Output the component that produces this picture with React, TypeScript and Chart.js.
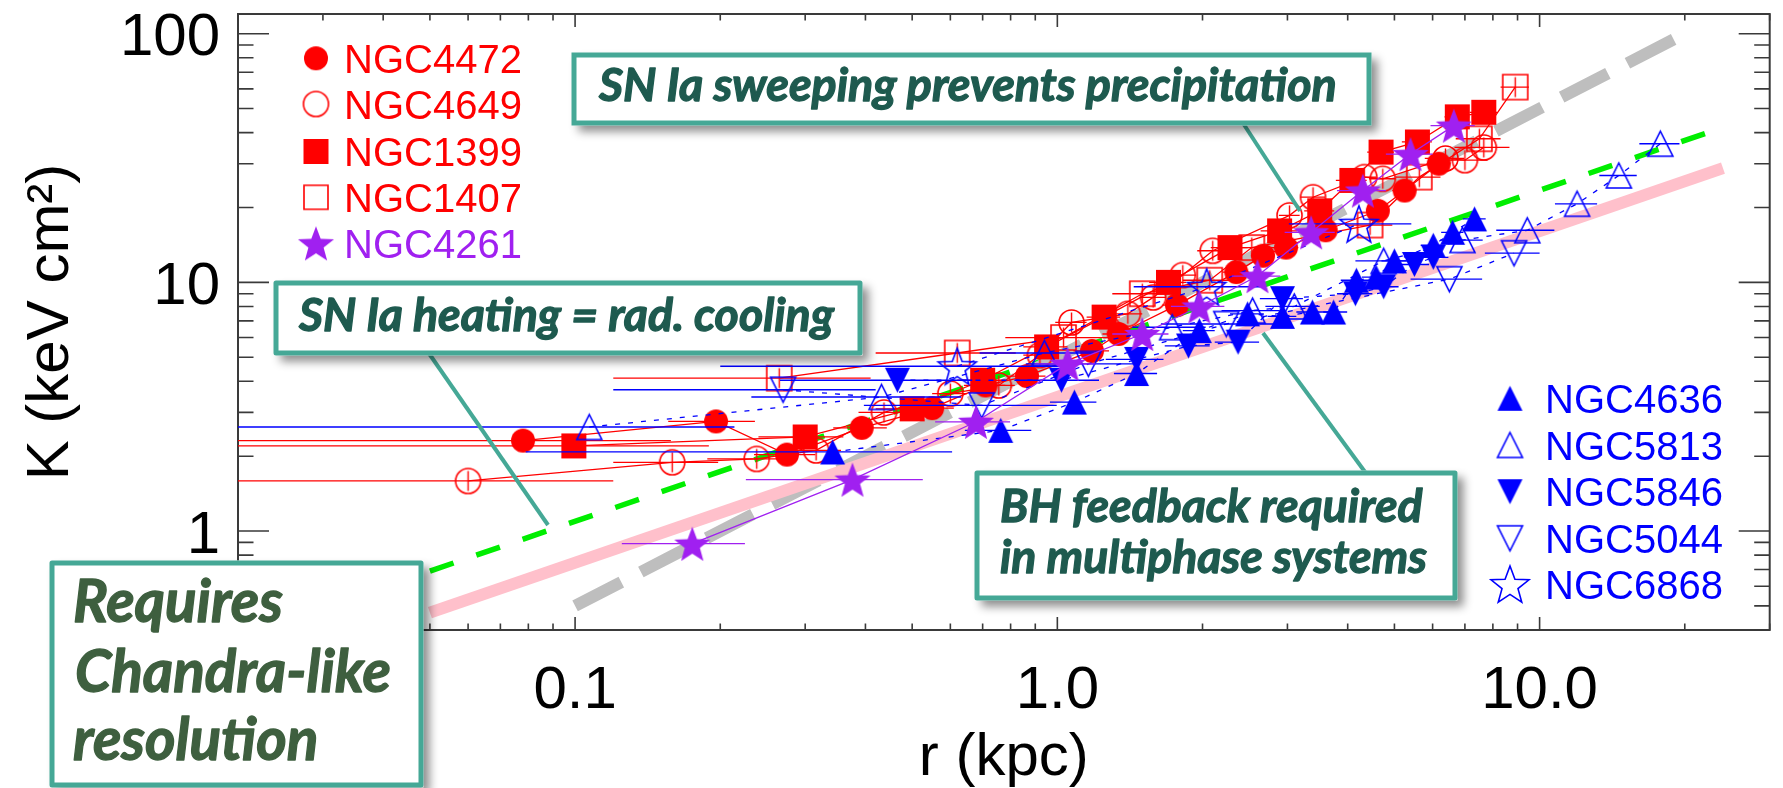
import React, { useEffect, useRef } from 'react';
import { Chart, registerables } from 'chart.js';

Chart.register(...registerables);

// ---------- axes ----------
const xRange = [0.02, 30];
const yRange = [0.4, 120];
const xMajor = [0.1, 1, 10];
const xMajorText = ['0.1', '1.0', '10.0'];
const yMajor = [1, 10, 100];
const yMajorText = ['1', '10', '100'];

// ---------- data (r in kpc, K in keV cm^2, rErr = half width of r bin) ----------
const r4472 = [0.078, 0.196, 0.275, 0.393, 0.55, 0.71, 0.865, 1.18, 1.34, 1.77, 2.35, 2.67, 2.98, 3.6, 4.62, 5.25, 6.18];
const k4472 = [2.31, 2.76, 2.03, 2.6, 3.12, 3.85, 4.2, 5.3, 6.2, 8.1, 11.0, 12.8, 13.8, 16.2, 19.4, 23.4, 30.0];
const e4472 = [0.08, 0.04, 0.04, 0.05, 0.06, 0.07, 0.08, 0.1, 0.1, 0.12, 0.15, 0.15, 0.18, 0.2, 0.25, 0.3, 0.35];

const r4649 = [0.06, 0.159, 0.238, 0.316, 0.437, 0.6, 0.756, 0.92, 1.07, 1.4, 1.58, 1.82, 2.1, 3.03, 3.39, 4.33, 4.73, 6.38, 7.0, 7.66];
const k4649 = [1.59, 1.89, 1.95, 2.11, 3.0, 3.57, 3.85, 5.1, 6.9, 7.47, 8.7, 10.7, 13.4, 18.6, 22.0, 26.5, 26.1, 31.5, 31.0, 34.9];
const e4649 = [0.06, 0.039, 0.05, 0.04, 0.05, 0.05, 0.06, 0.07, 0.08, 0.1, 0.1, 0.12, 0.15, 0.15, 0.2, 0.25, 0.3, 0.6, 0.8, 1.0];

const r1399 = [0.0994, 0.3, 0.5, 0.7, 0.95, 1.25, 1.7, 2.28, 2.89, 3.5, 4.08, 4.69, 5.58, 6.75, 7.66];
const k1399 = [2.2, 2.39, 3.1, 4.04, 5.5, 7.25, 10.0, 13.8, 16.1, 19.4, 25.7, 33.4, 36.7, 46.3, 48.3];
const e1399 = [0.09, 0.06, 0.08, 0.08, 0.1, 0.1, 0.15, 0.2, 0.25, 0.25, 0.3, 0.3, 0.4, 0.4, 0.5];

const r1407 = [0.265, 0.62, 1.03, 1.5, 2.07, 2.53, 4.45, 5.63, 7.5, 8.9];
const k1407 = [4.12, 5.2, 6.0, 9.0, 10.2, 13.8, 17.0, 26.5, 37.8, 61.0];
const e1407 = [0.145, 0.2, 0.25, 0.2, 0.25, 0.3, 0.5, 0.6, 0.8, 0.6];

const r4261 = [0.175, 0.376, 0.678, 1.05, 1.5, 1.97, 2.6, 3.36, 4.3, 5.4, 6.64];
const k4261 = [0.89, 1.61, 2.75, 4.7, 6.2, 8.0, 10.6, 15.9, 23.4, 32.8, 42.7];
const e4261 = [0.05, 0.15, 0.12, 0.15, 0.2, 0.25, 0.3, 0.4, 0.5, 0.6, 0.7];

const r4636 = [0.342, 0.763, 1.085, 1.46, 1.97, 2.48, 2.93, 3.38, 3.74, 4.17, 4.58, 5.0, 6.02, 6.6, 7.33];
const k4636 = [2.08, 2.54, 3.3, 4.3, 6.4, 7.47, 7.3, 7.6, 7.6, 10.2, 10.5, 12.2, 14.1, 15.9, 18.0];
const e4636 = [0.263, 0.12, 0.12, 0.15, 0.15, 0.2, 0.2, 0.25, 0.25, 0.3, 0.3, 0.3, 0.35, 0.35, 0.4];

const r5813 = [0.107, 0.432, 0.94, 1.73, 2.54, 3.1, 4.75, 6.92, 9.43, 11.96, 14.6, 17.8];
const k5813 = [2.62, 3.46, 5.2, 6.6, 7.7, 8.0, 12.2, 14.8, 16.2, 20.7, 26.9, 36.1];
const e5813 = [0.107, 0.2, 0.25, 0.3, 0.35, 0.4, 0.6, 0.7, 1.3, 1.2, 1.3, 1.7];

const r5846 = [0.466, 1.02, 1.46, 1.87, 2.37, 2.93, 4.15, 4.75, 5.5, 6.02];
const k5846 = [4.04, 4.04, 4.9, 5.55, 5.75, 8.6, 9.0, 9.6, 11.8, 12.6];
const e5846 = [0.2, 0.2, 0.2, 0.2, 0.25, 0.3, 0.35, 0.35, 0.4, 0.45];

const r5044 = [0.27, 0.697, 1.16, 2.24, 6.5, 8.85];
const k5044 = [3.7, 3.2, 4.7, 6.8, 10.3, 13.1];
const e5044 = [0.15, 0.3, 0.3, 0.6, 1.1, 1.15];

const r6868 = [0.62, 2.04, 4.22];
const k6868 = [4.6, 9.6, 17.2];
const e6868 = [0.42, 0.6, 1.2];

// reference relations (end points)
const grayR = [0.1, 20];
const grayK = [0.5, 100];
const greenR = [0.05, 24];
const greenK = [0.69, 42];
const pinkR = [0.05, 24];
const pinkK = [0.47, 28.8];

// legends
const leftLegend = ['NGC4472', 'NGC4649', 'NGC1399', 'NGC1407', 'NGC4261'];
const rightLegend = ['NGC4636', 'NGC5813', 'NGC5846', 'NGC5044', 'NGC6868'];

const RED = '#ff0000';
const PURPLE = '#a020f0';
const BLUE = '#0000ff';
const TEAL = '#45a896';
const BOXTEXT = '#1e5a4f';
const BOXTEXT2 = '#3e5f3f';
const AXISFONT = '"Liberation Sans", Arial, Helvetica, sans-serif';
const BOXFONT = 'Lato, "Open Sans", sans-serif';

function makeMarker(shape: string, color: string, filled: boolean, size: number, cross = false): HTMLCanvasElement {
  const pad = 3;
  const dim = Math.ceil(size * 2 + pad * 2);
  const c = document.createElement('canvas');
  c.width = dim;
  c.height = dim;
  const g = c.getContext('2d') as CanvasRenderingContext2D;
  const cx = dim / 2;
  const cy = dim / 2;
  g.beginPath();
  if (shape === 'circle') {
    g.arc(cx, cy, size, 0, Math.PI * 2);
  } else if (shape === 'square') {
    g.rect(cx - size, cy - size, size * 2, size * 2);
  } else if (shape === 'triUp') {
    g.moveTo(cx, cy - size);
    g.lineTo(cx + size, cy + size);
    g.lineTo(cx - size, cy + size);
    g.closePath();
  } else if (shape === 'triDown') {
    g.moveTo(cx, cy + size);
    g.lineTo(cx + size, cy - size);
    g.lineTo(cx - size, cy - size);
    g.closePath();
  } else if (shape === 'star') {
    for (let i = 0; i < 10; i++) {
      const rr = i % 2 === 0 ? size : size * 0.42;
      const a = -Math.PI / 2 + (i * Math.PI) / 5;
      const px = cx + rr * Math.cos(a);
      const py = cy + rr * Math.sin(a) + size * 0.1;
      if (i === 0) g.moveTo(px, py);
      else g.lineTo(px, py);
    }
    g.closePath();
  }
  if (filled) {
    g.fillStyle = color;
    g.fill();
  } else {
    g.strokeStyle = color;
    g.lineWidth = 1.6;
    g.stroke();
  }
  if (cross) {
    g.beginPath();
    g.strokeStyle = color;
    g.lineWidth = 1.4;
    g.moveTo(cx, cy - size * 0.8);
    g.lineTo(cx, cy + size * 0.8);
    g.stroke();
  }
  return c;
}

function logTicks(min: number, max: number) {
  const out: { v: number; major: boolean }[] = [];
  for (let e = Math.floor(Math.log10(min)); e <= Math.ceil(Math.log10(max)); e++) {
    for (let m = 1; m <= 9; m++) {
      const v = m * Math.pow(10, e);
      if (v >= min * 0.999 && v <= max * 1.001) out.push({ v, major: m === 1 });
    }
  }
  return out;
}

function fitFont(ctx: CanvasRenderingContext2D, text: string, width: number, style: string, family: string) {
  ctx.font = `${style} 100px ${family}`;
  const w = ctx.measureText(text).width;
  return (100 * width) / w;
}

function boldText(ctx: CanvasRenderingContext2D, text: string, x: number, y: number, color: string) {
  ctx.fillStyle = color;
  ctx.strokeStyle = color;
  ctx.lineWidth = 1.3;
  ctx.lineJoin = 'round';
  ctx.fillText(text, x, y);
  ctx.strokeText(text, x, y);
}

function drawBox(ctx: CanvasRenderingContext2D, x1: number, y1: number, x2: number, y2: number) {
  ctx.save();
  ctx.shadowColor = 'rgba(0,0,0,0.45)';
  ctx.shadowBlur = 9;
  ctx.shadowOffsetX = 6;
  ctx.shadowOffsetY = 6;
  ctx.fillStyle = '#ffffff';
  ctx.fillRect(x1 - 2.5, y1 - 2.5, x2 - x1 + 5, y2 - y1 + 5);
  ctx.restore();
  ctx.save();
  ctx.fillStyle = '#ffffff';
  ctx.fillRect(x1, y1, x2 - x1, y2 - y1);
  ctx.strokeStyle = TEAL;
  ctx.lineWidth = 5;
  ctx.strokeRect(x1, y1, x2 - x1, y2 - y1);
  ctx.restore();
}

function connector(ctx: CanvasRenderingContext2D, ax: number, ay: number, bx: number, by: number) {
  ctx.save();
  ctx.strokeStyle = TEAL;
  ctx.lineWidth = 4;
  ctx.beginPath();
  ctx.moveTo(ax, ay);
  ctx.lineTo(bx, by);
  ctx.stroke();
  ctx.restore();
}

export default function App() {
  const ref = useRef<HTMLCanvasElement | null>(null);

  useEffect(() => {
    const canvas = ref.current;
    if (!canvas) return;

    const m = {
      fCirc: makeMarker('circle', RED, true, 12),
      oCirc: makeMarker('circle', RED, false, 12.5, true),
      oCircL: makeMarker('circle', RED, false, 12.5),
      fSq: makeMarker('square', RED, true, 12.5),
      oSq: makeMarker('square', RED, false, 12.5, true),
      oSqL: makeMarker('square', RED, false, 12),
      pStar: makeMarker('star', PURPLE, true, 19),
      fUp: makeMarker('triUp', BLUE, true, 12.5),
      oUp: makeMarker('triUp', BLUE, false, 12.5),
      fDn: makeMarker('triDown', BLUE, true, 12.5),
      oDn: makeMarker('triDown', BLUE, false, 12.5),
      oStar: makeMarker('star', BLUE, false, 20),
    };

    const series = (label: string, r: number[], k: number[], e: number[], img: HTMLCanvasElement, color: string, dash: number[], order: number) => ({
      type: 'scatter',
      label,
      data: r.map((x, i) => ({ x, y: k[i] })),
      rErr: e,
      errColor: color,
      showLine: true,
      borderColor: color,
      backgroundColor: color,
      borderWidth: 1.3,
      borderDash: dash,
      pointStyle: img,
      pointRadius: 12,
      pointHoverRadius: 12,
      tension: 0,
      order,
    });

    const refLine = (label: string, r: number[], k: number[], color: string, width: number, dash: number[]) => ({
      type: 'scatter',
      label,
      data: r.map((x, i) => ({ x, y: k[i] })),
      showLine: true,
      borderColor: color,
      backgroundColor: color,
      borderWidth: width,
      borderDash: dash,
      borderCapStyle: 'butt',
      pointRadius: 0,
      pointHoverRadius: 0,
      order: 100,
    });

    const datasets: any[] = [
      refLine('pink', pinkR, pinkK, '#ffc0cb', 12, []),
      refLine('gray', grayR, grayK, '#bebebe', 12, [52, 22]),
      refLine('green', greenR, greenK, '#00ee00', 5.5, [25, 24]),
      series('NGC4649', r4649, k4649, e4649, m.oCirc, RED, [], 12),
      series('NGC1407', r1407, k1407, e1407, m.oSq, RED, [], 11),
      series('NGC4472', r4472, k4472, e4472, m.fCirc, RED, [], 10),
      series('NGC1399', r1399, k1399, e1399, m.fSq, RED, [], 9),
      series('NGC5044', r5044, k5044, e5044, m.oDn, BLUE, [5, 8], 8),
      series('NGC5813', r5813, k5813, e5813, m.oUp, BLUE, [5, 8], 7),
      series('NGC6868', r6868, k6868, e6868, m.oStar, BLUE, [5, 8], 6),
      series('NGC5846', r5846, k5846, e5846, m.fDn, BLUE, [5, 8], 5),
      series('NGC4636', r4636, k4636, e4636, m.fUp, BLUE, [5, 8], 4),
      series('NGC4261', r4261, k4261, e4261, m.pStar, PURPLE, [], 1),
    ];

    const plugin = {
      id: 'decor',
      beforeDatasetsDraw(chart: any) {
        const ctx = chart.ctx as CanvasRenderingContext2D;
        const { left, right, top, bottom } = chart.chartArea;
        const xs = chart.scales.x;
        const ys = chart.scales.y;
        ctx.save();
        ctx.strokeStyle = '#3a3a3a';
        ctx.lineWidth = 2;
        ctx.strokeRect(left, top, right - left, bottom - top);
        ctx.lineWidth = 1.6;
        ctx.beginPath();
        for (const t of logTicks(xRange[0], xRange[1])) {
          const px = xs.getPixelForValue(t.v);
          const len = t.major ? 13 : 6.5;
          ctx.moveTo(px, bottom);
          ctx.lineTo(px, bottom - len);
          ctx.moveTo(px, top);
          ctx.lineTo(px, top + len);
        }
        for (const t of logTicks(yRange[0], yRange[1])) {
          const py = ys.getPixelForValue(t.v);
          const len = t.major ? 31 : 15.5;
          ctx.moveTo(left, py);
          ctx.lineTo(left + len, py);
          ctx.moveTo(right, py);
          ctx.lineTo(right - len, py);
        }
        ctx.stroke();
        ctx.restore();
      },
      beforeDatasetDraw(chart: any, args: any) {
        const ds = chart.data.datasets[args.index];
        if (!ds.rErr) return;
        const ctx = chart.ctx as CanvasRenderingContext2D;
        const a = chart.chartArea;
        const xs = chart.scales.x;
        const ys = chart.scales.y;
        ctx.save();
        ctx.beginPath();
        ctx.rect(a.left, a.top, a.right - a.left, a.bottom - a.top);
        ctx.clip();
        ctx.strokeStyle = ds.errColor;
        ctx.lineWidth = 1.3;
        ctx.beginPath();
        ds.data.forEach((p: any, i: number) => {
          const lo = p.x - ds.rErr[i];
          const hi = p.x + ds.rErr[i];
          const x1 = lo > 0 ? xs.getPixelForValue(lo) : a.left - 5;
          const x2 = xs.getPixelForValue(hi);
          const y = ys.getPixelForValue(p.y);
          ctx.moveTo(x1, y);
          ctx.lineTo(x2, y);
        });
        ctx.stroke();
        ctx.restore();
      },
      afterDraw(chart: any) {
        const ctx = chart.ctx as CanvasRenderingContext2D;
        const xs = chart.scales.x;
        const ys = chart.scales.y;
        const { left, right, top, bottom } = chart.chartArea;
        ctx.save();
        // tick labels
        ctx.fillStyle = '#000';
        ctx.font = `60px ${AXISFONT}`;
        ctx.textBaseline = 'alphabetic';
        ctx.textAlign = 'center';
        xMajor.forEach((v, i) => {
          ctx.fillText(xMajorText[i], xs.getPixelForValue(v), bottom + 78);
        });
        ctx.textAlign = 'right';
        yMajor.forEach((v, i) => {
          ctx.fillText(yMajorText[i], left - 18, ys.getPixelForValue(v) + 21.5);
        });
        // axis titles
        ctx.textAlign = 'center';
        ctx.fillText('r (kpc)', (left + right) / 2, 775);
        ctx.save();
        ctx.translate(68, (top + bottom) / 2);
        ctx.rotate(-Math.PI / 2);
        ctx.fillText('K (keV cm\u00b2)', 0, 0);
        ctx.restore();

        // legends
        const leftImgs = [m.fCirc, m.oCircL, m.fSq, m.oSqL, m.pStar];
        const leftCols = [RED, RED, RED, RED, PURPLE];
        const leftRows = [58.3, 104, 151.5, 197.3, 243.3];
        ctx.font = `40px ${AXISFONT}`;
        ctx.textAlign = 'left';
        leftLegend.forEach((name, i) => {
          const img = leftImgs[i];
          ctx.drawImage(img, 316 - img.width / 2, leftRows[i] - img.height / 2);
          ctx.fillStyle = leftCols[i];
          ctx.fillText(name, 344, leftRows[i] + 14.5);
        });
        const rightImgs = [m.fUp, m.oUp, m.fDn, m.oDn, m.oStar];
        const rightRows = [398.3, 445, 491.7, 538.3, 584];
        rightLegend.forEach((name, i) => {
          const img = rightImgs[i];
          ctx.drawImage(img, 1510 - img.width / 2, rightRows[i] - img.height / 2);
          ctx.fillStyle = BLUE;
          ctx.fillText(name, 1545, rightRows[i] + 14.5);
        });

        // connectors
        connector(ctx, 1241, 120, 1300, 211);
        connector(ctx, 428, 352, 548, 525);
        connector(ctx, 1368, 476, 1263, 333);

        // boxes
        const st = 'italic bold';
        ctx.textAlign = 'left';
        drawBox(ctx, 574, 55, 1369, 123);
        let fs = fitFont(ctx, 'SN Ia sweeping prevents precipitation', 738, st, BOXFONT);
        ctx.font = `${st} ${fs}px ${BOXFONT}`;
        boldText(ctx, 'SN Ia sweeping prevents precipitation', 599, 101, BOXTEXT);

        drawBox(ctx, 276, 283, 860, 353);
        fs = fitFont(ctx, 'SN Ia heating = rad. cooling', 535, st, BOXFONT);
        ctx.font = `${st} ${fs}px ${BOXFONT}`;
        boldText(ctx, 'SN Ia heating = rad. cooling', 299, 331, BOXTEXT);

        drawBox(ctx, 977, 473, 1455, 598);
        fs = fitFont(ctx, 'in multiphase systems', 427, st, BOXFONT);
        ctx.font = `${st} ${fs}px ${BOXFONT}`;
        boldText(ctx, 'BH feedback required', 1000, 521.7, BOXTEXT);
        boldText(ctx, 'in multiphase systems', 1000, 573.3, BOXTEXT);

        drawBox(ctx, 52, 563, 421, 785);
        fs = fitFont(ctx, 'Chandra-like', 316, st, BOXFONT);
        ctx.font = `${st} ${fs}px ${BOXFONT}`;
        boldText(ctx, 'Requires', 73, 621.7, BOXTEXT2);
        boldText(ctx, 'Chandra-like', 75, 691.7, BOXTEXT2);
        boldText(ctx, 'resolution', 73, 760, BOXTEXT2);
        ctx.restore();
      },
    };

    const chart = new Chart(canvas, {
      type: 'scatter',
      data: { datasets },
      options: {
        responsive: false,
        animation: false,
        devicePixelRatio: 1,
        events: [],
        layout: { padding: { top: 14, right: 8, left: 0, bottom: 0 } },
        plugins: { legend: { display: false }, tooltip: { enabled: false }, title: { display: false } },
        scales: {
          x: {
            type: 'logarithmic',
            min: xRange[0],
            max: xRange[1],
            ticks: { display: false },
            grid: { display: false },
            border: { display: false },
            afterFit: (s: any) => {
              s.height = 158;
            },
          },
          y: {
            type: 'logarithmic',
            min: yRange[0],
            max: yRange[1],
            ticks: { display: false },
            grid: { display: false },
            border: { display: false },
            afterFit: (s: any) => {
              s.width = 238;
            },
          },
        },
      } as any,
      plugins: [plugin],
    } as any);

    return () => chart.destroy();
  }, []);

  return (
    <div style={{ position: 'absolute', left: 0, top: 0, width: 1783, height: 788, background: '#fff' }}>
      <canvas ref={ref} width={1783} height={788} style={{ display: 'block' }} />
    </div>
  );
}
